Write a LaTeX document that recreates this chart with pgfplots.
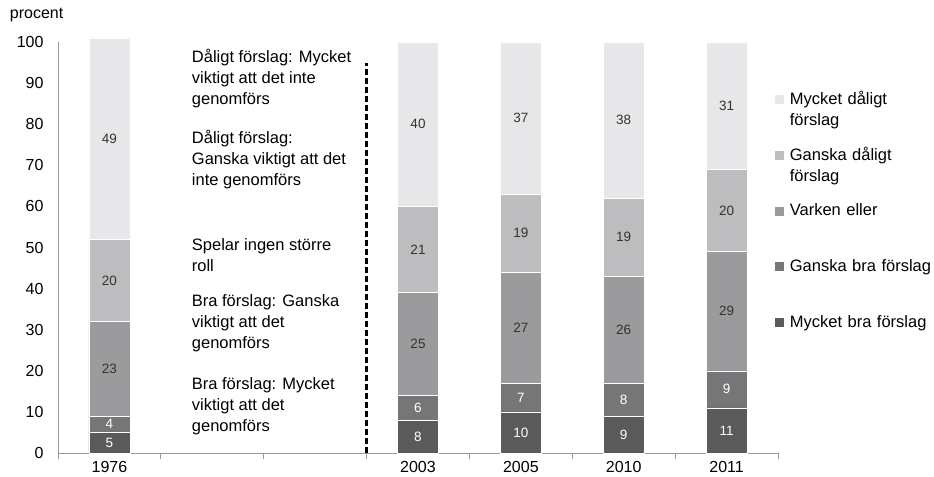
\documentclass[border=0pt]{standalone}
\usepackage{fontspec}
\setmainfont{Liberation Sans}
\usepackage{pgfplots}
\usepackage{pgfplotstable}
\pgfplotsset{compat=1.18}

\definecolor{mbra}{HTML}{5A5A5A}
\definecolor{gbra}{HTML}{767678}
\definecolor{varken}{HTML}{9B9B9D}
\definecolor{gdal}{HTML}{BDBDBF}
\definecolor{mdal}{HTML}{E7E7E9}
\definecolor{axgray}{HTML}{9A9A9A}
\definecolor{labgray}{HTML}{333333}

% x: 0 = 1976, 3 = 2003, 4 = 2005, 5 = 2010, 6 = 2011
\pgfplotstableread{
x y
0 5
3 8
4 10
5 9
6 11
}\tabMB
\pgfplotstableread{
x y
0 4
3 6
4 7
5 8
6 9
}\tabGB
\pgfplotstableread{
x y
0 23
3 25
4 27
5 26
6 29
}\tabVE
\pgfplotstableread{
x y
0 20
3 21
4 19
5 19
6 20
}\tabGD
\pgfplotstableread{
x y
0 49
3 40
4 37
5 38
6 31
}\tabMD

\begin{document}
\begin{tikzpicture}
\useasboundingbox (-58bp,-24bp) rectangle (876bp,453bp);
\begin{axis}[
at={(0bp,0bp)}, anchor=south west,
scale only axis,
width=720bp, height=411bp,
xmin=-0.5, xmax=6.5,
ymin=0, ymax=100,
clip=false,
ybar stacked,
bar width=41bp,
axis lines=left,
axis line style={draw=axgray, line width=1bp, -},
ytick={0,10,...,100},
yticklabels={0,10,20,30,40,50,60,70,80,90,100},
xtick={0,...,6},
xticklabels={1976,,,2003,2005,2010,2011},
minor xtick={-0.5,0.5,...,6.5},
major tick length=0pt,
minor tick length=6bp,
tick align=outside,
minor tick style={draw=axgray, line width=1bp},
tick label style={font=\fontsize{16bp}{19bp}\selectfont},
yticklabel style={xshift=-11bp},
xticklabel style={yshift=-5bp},
point meta=explicit symbolic,
nodes near coords,
every node near coord/.append style={
  anchor=center,
  font=\fontsize{13.5bp}{16bp}\selectfont, text=labgray},
legend image code/.code={\fill[#1] (0bp,6.5bp) rectangle (10bp,16.5bp);
  \path (14bp,6.5bp);},
reverse legend,
legend cell align=left,
legend style={at={(0.9905,0.885)}, anchor=north west, draw=none, fill=none,
  font=\fontsize{16.5bp}{21bp}\selectfont,
  nodes={text width=143bp, text height=12bp, text depth=25bp, inner sep=1bp},
  row sep=16.7bp},
]
\addplot[fill=mbra, draw=white, line width=0.5bp,
  every node near coord/.append style={text=white}] table[meta=y] {\tabMB};
\addlegendentry{Mycket bra förslag}
\addplot[fill=gbra, draw=white, line width=0.5bp,
  every node near coord/.append style={text=white}] table[meta=y] {\tabGB};
\addlegendentry{Ganska bra förslag}
\addplot[fill=varken, draw=white, line width=0.5bp] table[meta=y] {\tabVE};
\addlegendentry{Varken eller}
\addplot[fill=gdal, draw=white, line width=0.5bp] table[meta=y] {\tabGD};
\addlegendentry{Ganska dåligt förslag}
\addplot[fill=mdal, draw=white, line width=0.5bp] table[meta=y] {\tabMD};
\addlegendentry{Mycket dåligt förslag}

\draw[black, line width=2.5bp, dash pattern=on 6bp off 3bp]
  (axis cs:2.5,0) -- (axis cs:2.5,95);

\node[anchor=west, align=left, font=\fontsize{16.5bp}{21bp}\selectfont, inner sep=0pt]
  at (axis cs:0.8,91.2) {Dåligt förslag: Mycket\\viktigt att det inte\\genomförs};
\node[anchor=west, align=left, font=\fontsize{16.5bp}{21bp}\selectfont, inner sep=0pt]
  at (axis cs:0.8,71.5) {Dåligt förslag:\\Ganska viktigt att det\\inte genomförs};
\node[anchor=west, align=left, font=\fontsize{16.5bp}{21bp}\selectfont, inner sep=0pt]
  at (axis cs:0.8,48.1) {Spelar ingen större\\roll};
\node[anchor=west, align=left, font=\fontsize{16.5bp}{21bp}\selectfont, inner sep=0pt]
  at (axis cs:0.8,31.6) {Bra förslag: Ganska\\viktigt att det\\genomförs};
\node[anchor=west, align=left, font=\fontsize{16.5bp}{21bp}\selectfont, inner sep=0pt]
  at (axis cs:0.8,11.4) {Bra förslag: Mycket\\viktigt att det\\genomförs};

\node[anchor=west, inner sep=0pt, font=\fontsize{16bp}{19bp}\selectfont]
  at (rel axis cs:-0.067,1.066) {procent};
\end{axis}
\end{tikzpicture}
\end{document}
